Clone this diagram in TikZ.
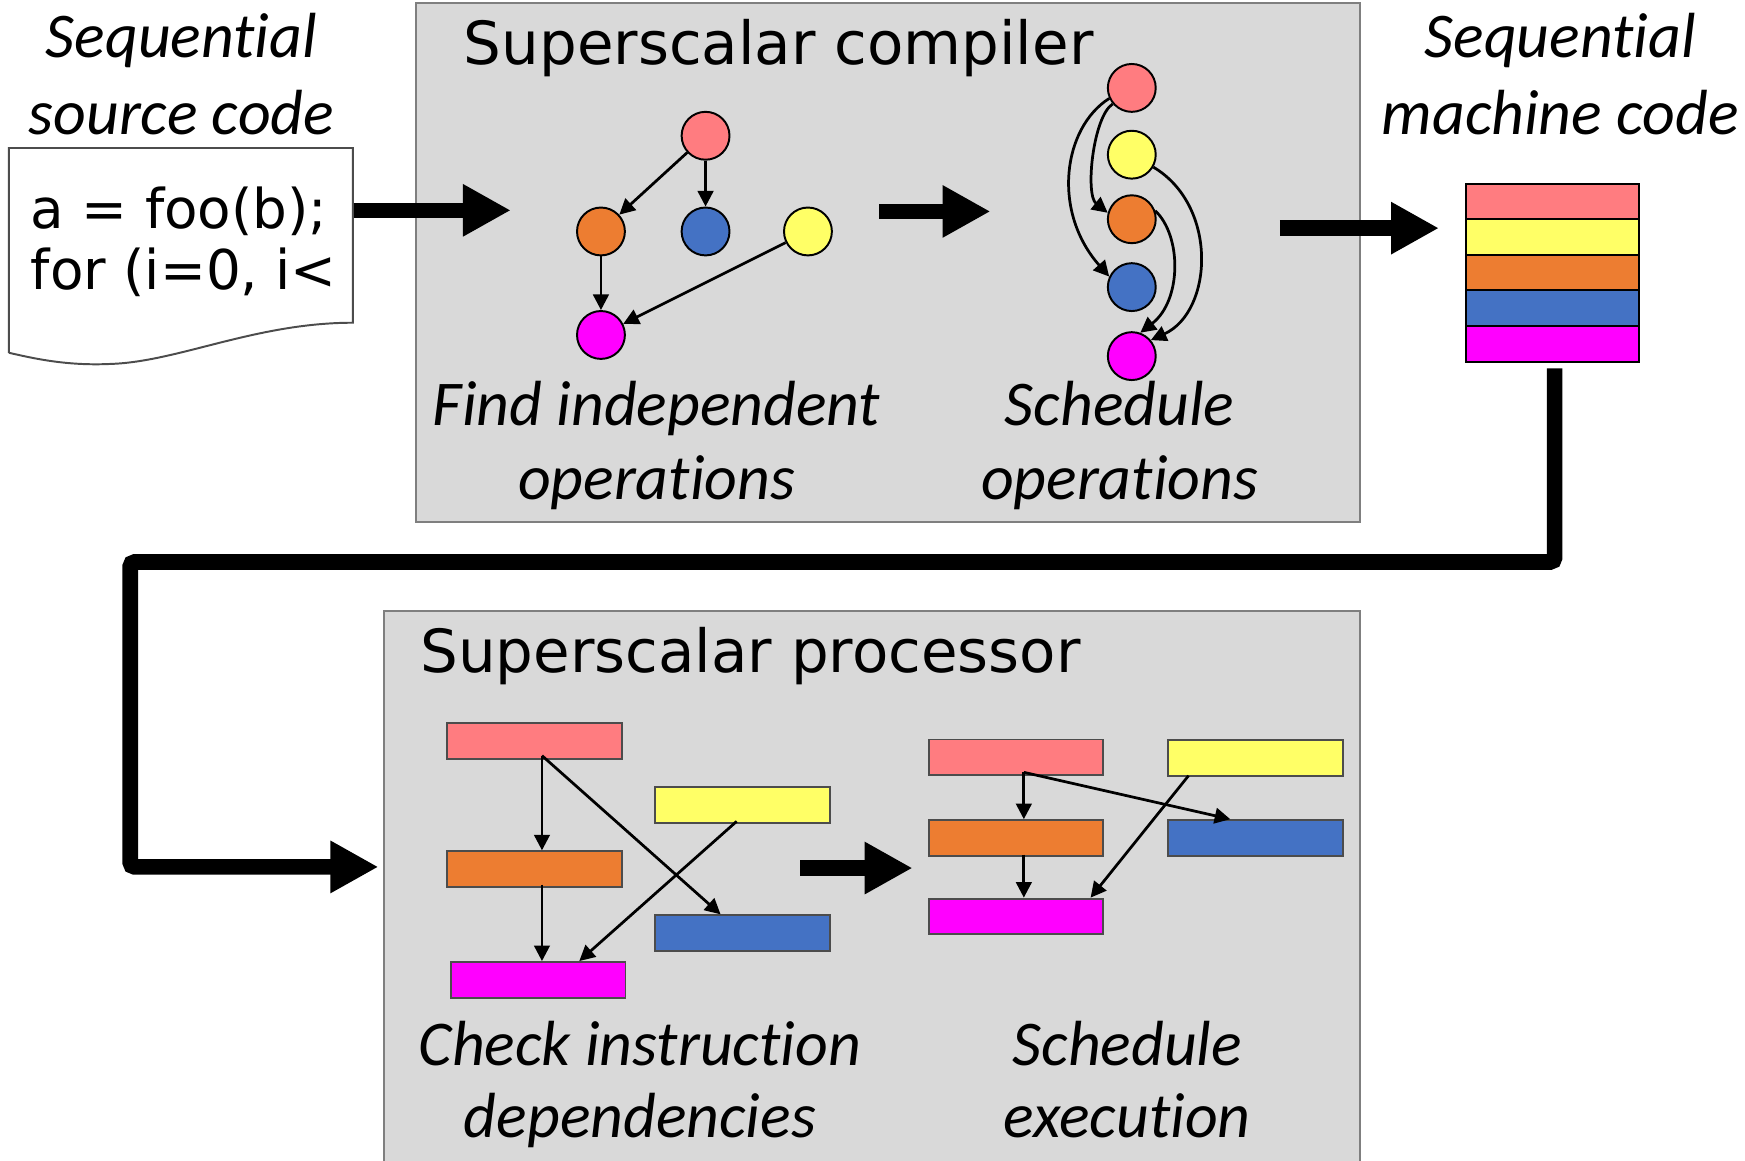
\documentclass[tikz,border=0pt]{standalone}
\usepackage{fontspec}
\setmainfont{Carlito}[Ligatures=NoCommon]
\newfontfamily\dv{DejaVu Sans}
\usetikzlibrary{arrows.meta,calc}
\definecolor{cpink}{HTML}{FF7C80}
\definecolor{cyellow}{HTML}{FFFF66}
\definecolor{corange}{HTML}{ED7D31}
\definecolor{cblue}{HTML}{4472C4}
\definecolor{cmag}{HTML}{FF00FF}
\definecolor{boxgray}{HTML}{D9D9D9}
\definecolor{edgegray}{HTML}{7F7F7F}
\begin{document}
\begin{tikzpicture}[x=0.01cm,y=-0.01cm,
  circ/.style={circle,draw=black,line width=0.5pt,minimum size=0.43cm,inner sep=0pt},
  bar/.style={rectangle,draw=black!70,line width=0.5pt,minimum width=1.57cm,minimum height=0.32cm,inner sep=0pt},
  sbar/.style={rectangle,draw=black,line width=0.5pt,minimum width=1.56cm,minimum height=0.32cm,inner sep=0pt},
  thinarrow/.style={line width=0.7pt,-{Triangle[length=0.14cm,width=0.14cm]}},
  fatarrow/.style={line width=0.14cm,-{Triangle[length=0.43cm,width=0.44cm]}},
  ital/.style={font=\fontsize{16.3}{19}\selectfont\itshape,anchor=base,inner sep=0pt},
  ttl/.style={font=\dv\fontsize{15.2}{18}\selectfont,anchor=base west,inner sep=0pt},
  code/.style={font=\dv\fontsize{14}{17}\selectfont,anchor=base west,inner sep=0pt},
  panel/.style={fill=boxgray,draw=edgegray,line width=0.02cm}]
\useasboundingbox (0,0) rectangle (1568,1043);

% panels
\draw[panel] (374,3) rectangle (1222,469);
\fill[boxgray] (345,549) rectangle (1222,1043);
\draw[edgegray,line width=0.02cm] (345,1043) -- (345,549) -- (1222,549) -- (1222,1043);

% titles
\node[ttl] (tc) at (416,58) {Superscalar compiler};
\node[ttl] (tp) at (377,604) {Superscalar processor};

% source code document
\node[ital] (s1) at (163,52) {Sequential};
\node[ital] (s2) at (163,121) {source code};
\draw[fill=white,draw=black!70,line width=0.5pt] (8,317) -- (8,133) -- (317,133) -- (317,290)
  .. controls (230,290) and (160,325) .. (100,327) .. controls (60,329) and (30,322) .. (8,317);
\node[code] (c1) at (27,205) {a = foo(b);};
\node[code] (c2) at (27,260) {for (i=0, i<};

% machine code
\node[ital] (m1) at (1402,52) {Sequential};
\node[ital] (m2) at (1402,121) {machine code};
\node[sbar,fill=cpink]   (SP) at (1395,181) {};
\node[sbar,fill=cyellow] (SY) at (1395,213) {};
\node[sbar,fill=corange] (SO) at (1395,245) {};
\node[sbar,fill=cblue]   (SB) at (1395,277) {};
\node[sbar,fill=cmag]    (SM) at (1395,309) {};

% fat arrows
\coordinate (a1s) at (318,189); \coordinate (a1e) at (459,189);
\coordinate (a2s) at (790,190); \coordinate (a2e) at (890,190);
\coordinate (a3s) at (1150,205); \coordinate (a3e) at (1293,205);
\coordinate (a4s) at (719,780); \coordinate (a4e) at (820,780);
\draw[fatarrow] (a1s) -- (a1e);
\draw[fatarrow] (a2s) -- (a2e);
\draw[fatarrow] (a3s) -- (a3e);
\draw[fatarrow] (a4s) -- (a4e);
\coordinate (b0) at (1397,331);
\coordinate (b1) at (1397,505);
\coordinate (b2) at (117,505);
\coordinate (b3) at (117,779);
\coordinate (b4) at (340,779);
\draw[fatarrow,rounded corners=0.04cm] (b0) -- (b1) -- (b2) -- (b3) -- (b4);

% graph 1
\node[circ,fill=cpink]   (P1) at (634,122) {};
\node[circ,fill=corange] (O1) at (540,208) {};
\node[circ,fill=cblue]   (B1) at (634,208) {};
\node[circ,fill=cyellow] (Y1) at (726,208) {};
\node[circ,fill=cmag]    (M1) at (540,301) {};
\draw[thinarrow] (P1) -- (O1);
\draw[thinarrow] (P1) -- (B1);
\draw[thinarrow] (O1) -- (M1);
\draw[thinarrow] (Y1) -- (M1);
\node[ital] (f1) at (590,382) {Find independent};
\node[ital] (f2) at (590,449) {operations};

% graph 2
\node[circ,fill=cpink]   (P2) at (1017,79) {};
\node[circ,fill=cyellow] (Y2) at (1017,139) {};
\node[circ,fill=corange] (O2) at (1017,197) {};
\node[circ,fill=cblue]   (B2) at (1017,258) {};
\node[circ,fill=cmag]    (M2) at (1017,320) {};
\draw[thinarrow] (P2.220) .. controls (982,105) and (975,175) .. (O2.165);
\draw[thinarrow] (P2.205) .. controls (955,115) and (945,190) .. (B2.155);
\draw[thinarrow] (Y2.330) .. controls (1095,185) and (1090,280) .. (M2.40);
\draw[thinarrow] (O2.20) .. controls (1062,212) and (1062,270) .. (M2.70);
\node[ital] (g1) at (1006,382) {Schedule};
\node[ital] (g2) at (1006,449) {operations};

% processor left group
\node[bar,fill=cpink]   (PL) at (480.5,666) {};
\node[bar,fill=cyellow] (YL) at (667.5,723.5) {};
\node[bar,fill=corange] (OL) at (480.5,781) {};
\node[bar,fill=cblue]   (BL) at (667.5,838.5) {};
\node[bar,fill=cmag]    (ML) at (483.5,880.5) {};
\coordinate (pl0) at (487,679);
\coordinate (ol0) at (487,795);
\coordinate (yl0) at (662,738);
\draw[thinarrow] (pl0) -- (pl0 |- OL.north);
\draw[thinarrow] (pl0) -- ($(BL.north)+(-20,0)$);
\draw[thinarrow] (ol0) -- (ol0 |- ML.north);
\draw[thinarrow] (yl0) -- ($(ML.north)+(37,0)$);
\node[ital] (h1) at (575,957) {Check instruction};
\node[ital] (h2) at (575,1022) {dependencies};

% processor right group
\node[bar,fill=cpink]   (PR) at (913,680.5) {};
\node[bar,fill=cyellow] (YR) at (1128.5,681) {};
\node[bar,fill=corange] (OR) at (913,753) {};
\node[bar,fill=cblue]   (BR) at (1128.5,753) {};
\node[bar,fill=cmag]    (MR) at (913,823.5) {};
\coordinate (pr0) at (920,694);
\coordinate (or0) at (920,768);
\coordinate (yr0) at (1068,697);
\draw[thinarrow] (pr0) -- (pr0 |- OR.north);
\draw[thinarrow] (pr0) -- ($(BR.north)+(-23,0)$);
\draw[thinarrow] (or0) -- (or0 |- MR.north);
\draw[thinarrow] (yr0) -- ($(MR.north)+(67,0)$);
\node[ital] (k1) at (1013,957) {Schedule};
\node[ital] (k2) at (1013,1022) {execution};
\end{tikzpicture}
\end{document}
